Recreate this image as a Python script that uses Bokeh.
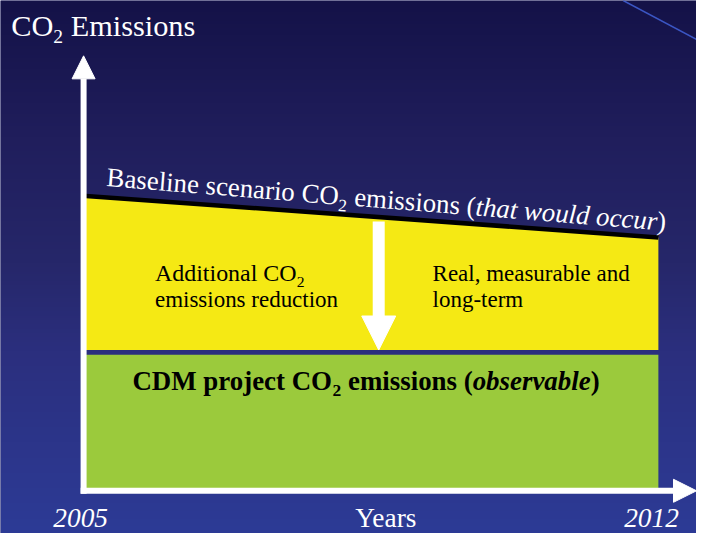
import math
import numpy as np
from bokeh.plotting import figure
from bokeh.models import Label, Arrow, NormalHead
from bokeh.embed import file_html
from bokeh.resources import INLINE

# ---- data ----
years = [2005, 2012]
baseline_emissions = [7.6, 6.525]      # baseline scenario (would occur)
project_emissions = [3.5, 3.5]         # CDM project emissions (observable)
arrow_year = 2008.6                    # position of the reduction arrow
year_labels = ["2005", "2012"]

# ---- layout helpers: reference-picture pixels -> data units ----
REF_W, REF_H = 712, 549
W, H = 696, 533
FS = W / REF_W
PX_PER_YEAR = (673 - 84) / 7.0
PX_PER_UNIT = 40.0
def dx(px):
    return 2005 + (px - 84) / PX_PER_YEAR
def dy(py):
    return (505 - py) / PX_PER_UNIT

p = figure(width=W, height=H, output_backend="svg", toolbar_location=None,
           x_range=(dx(0), dx(REF_W)), y_range=(dy(REF_H), dy(0)),
           x_axis_type=None, y_axis_type=None, min_border=0)
p.min_border_left = p.min_border_right = p.min_border_top = p.min_border_bottom = 0
p.grid.visible = False
p.outline_line_color = None
p.background_fill_color = "#25276b"
p.border_fill_color = "#25276b"

# ---- background gradient ----
stops_y = [0, 140, 270, 360, 549]
rs = [20, 32, 38, 43, 45]
gs = [18, 30, 39, 47, 59]
bs = [72, 92, 106, 126, 150]
py_rows = REF_H - (np.arange(H) + 0.5) * REF_H / H
img = np.empty((H, 1), dtype=np.uint32)
view = img.view(dtype=np.uint8).reshape((H, 1, 4))
view[:, 0, 0] = np.interp(py_rows, stops_y, rs).astype(np.uint8)
view[:, 0, 1] = np.interp(py_rows, stops_y, gs).astype(np.uint8)
view[:, 0, 2] = np.interp(py_rows, stops_y, bs).astype(np.uint8)
view[:, 0, 3] = 255
p.image_rgba(image=[img], x=dx(0), y=dy(REF_H), dw=dx(REF_W) - dx(0), dh=dy(0) - dy(REF_H))

# decorative line top right
p.line([dx(637), dx(712)], [dy(0), dy(40)], line_color="#3b56c4", line_width=1.5)

# ---- regions ----
gap = 0.125
yellow_x = [years[0], years[1], years[1], years[0]]
yellow_y = [baseline_emissions[0], baseline_emissions[1],
            project_emissions[1] + gap, project_emissions[0] + gap]
p.patch(yellow_x, yellow_y, fill_color="#f5e914", line_color=None)

p.quad(left=[years[0]], right=[years[1]], bottom=[0], top=[project_emissions[0]],
       fill_color="#9bca3c", line_color=None)

p.line(years, baseline_emissions, line_color="black", line_width=4.5)

# ---- axes as arrows ----
p.add_layout(Arrow(end=NormalHead(size=23, fill_color="white", line_color="white"),
                   x_start=dx(85), y_start=dy(508), x_end=dx(85), y_end=dy(57),
                   line_color="white", line_width=6))
p.add_layout(Arrow(end=NormalHead(size=23, fill_color="white", line_color="white"),
                   x_start=dx(82), y_start=0, x_end=dx(712), y_end=0,
                   line_color="white", line_width=6))

# reduction arrow
b_at = float(np.interp(arrow_year, years, baseline_emissions))
p.add_layout(Arrow(end=NormalHead(size=34, fill_color="white", line_color="white"),
                   x_start=arrow_year, y_start=b_at - 0.11,
                   x_end=arrow_year, y_end=project_emissions[0] + gap,
                   line_color="white", line_width=12))

# ---- text layout with Times metrics ----
SERIF = "Liberation Serif"
BASE_FIX = 0.33   # renderer draws "alphabetic" labels this many em lower
R = {' ': 250, '(': 333, ')': 333, ',': 250, '-': 333, '0': 500, '1': 500, '2': 500, '5': 500,
     'A': 722, 'B': 667, 'C': 667, 'D': 722, 'E': 611, 'M': 889, 'O': 722, 'R': 667, 'Y': 722,
     'a': 444, 'b': 500, 'c': 444, 'd': 500, 'e': 444, 'g': 500, 'h': 500, 'i': 278, 'j': 278,
     'l': 278, 'm': 778, 'n': 500, 'o': 500, 'p': 500, 'r': 333, 's': 389, 't': 278, 'u': 500,
     'v': 500, 'w': 722, 'y': 500}
I = {' ': 250, 'a': 500, 'c': 444, 'd': 500, 'h': 500, 'l': 278, 'o': 500, 'r': 389, 't': 278,
     'u': 500, 'w': 667, 'b': 500, 'e': 444, 's': 389, 'v': 444}
B = {' ': 250, '(': 333, ')': 333, '2': 500, 'C': 722, 'D': 722, 'M': 944, 'O': 778, 'c': 444,
     'e': 444, 'i': 278, 'j': 333, 'm': 833, 'n': 556, 'o': 500, 'p': 556, 'r': 444, 's': 389,
     't': 333}
BI = {'o': 500, 'b': 500, 's': 389, 'e': 444, 'r': 389, 'v': 444, 'a': 500, 'l': 278}
TABLES = {"normal": R, "italic": I, "bold": B, "bold italic": BI}

def width(text, style, size):
    t = TABLES[style]
    return sum(t.get(ch, 500) for ch in text) / 1000.0 * size

def place(x0, y0, pieces, color="white", slope=0.0):
    th = math.atan(slope)
    c, s = math.cos(th), math.sin(th)
    adv = 0.0
    for text, style, size, sub in pieces:
        off = sub - BASE_FIX * size
        drawn = text.lstrip(" ")
        lead = width(text[:len(text) - len(drawn)], style, size)
        a = adv + lead
        px = x0 + a * c - off * s
        py = y0 + a * s + off * c
        p.add_layout(Label(x=dx(px), y=dy(py), text=drawn, text_font=SERIF,
                           text_font_size=f"{size * FS:.2f}px", text_color=color,
                           text_font_style=style, angle=-th,
                           text_baseline="alphabetic", text_align="left"))
        adv += width(text, style, size)

# title
place(11, 36, [("CO", "normal", 31, 0), ("2", "normal", 20, 8), (" Emissions", "normal", 31, 0)])

# baseline text along the line
bs_ = 27.5
place(108, 191, [("Baseline scenario CO", "normal", bs_, 0),
                 ("2", "normal", bs_ * 0.65, 7),
                 (" emissions (", "normal", bs_, 0),
                 ("that would occur", "italic", bs_, 0),
                 (")", "normal", bs_, 0)], slope=0.08)

# yellow texts
place(158, 289, [("Additional CO", "normal", 24.5, 0), ("2", "normal", 16, 6)], color="black")
place(158, 316, [("emissions reduction", "normal", 23.5, 0)], color="black")
place(442, 289, [("Real, measurable and", "normal", 23.5, 0)], color="black")
place(442, 316, [("long-term", "normal", 23.5, 0)], color="black")

# green text
gs_ = 27.5
place(135, 401, [("CDM project CO", "bold", gs_, 0),
                 ("2", "bold", gs_ * 0.65, 7),
                 (" emissions (", "bold", gs_, 0),
                 ("observable", "bold italic", gs_, 0),
                 (")", "bold", gs_, 0)], color="black")

# bottom labels
lab_size = 28
for yr, txt, off in zip(years, year_labels, [-2, -7]):
    p.add_layout(Label(x=yr, y=dy(542 - BASE_FIX * lab_size), text=txt, text_font=SERIF,
                       text_font_size=f"{lab_size * FS:.2f}px", text_color="white",
                       text_font_style="italic", x_offset=off * FS,
                       text_align="center", text_baseline="alphabetic"))
place(363, 542, [("Years", "normal", lab_size, 0)])

open("out.html", "w").write(file_html(p, INLINE))
